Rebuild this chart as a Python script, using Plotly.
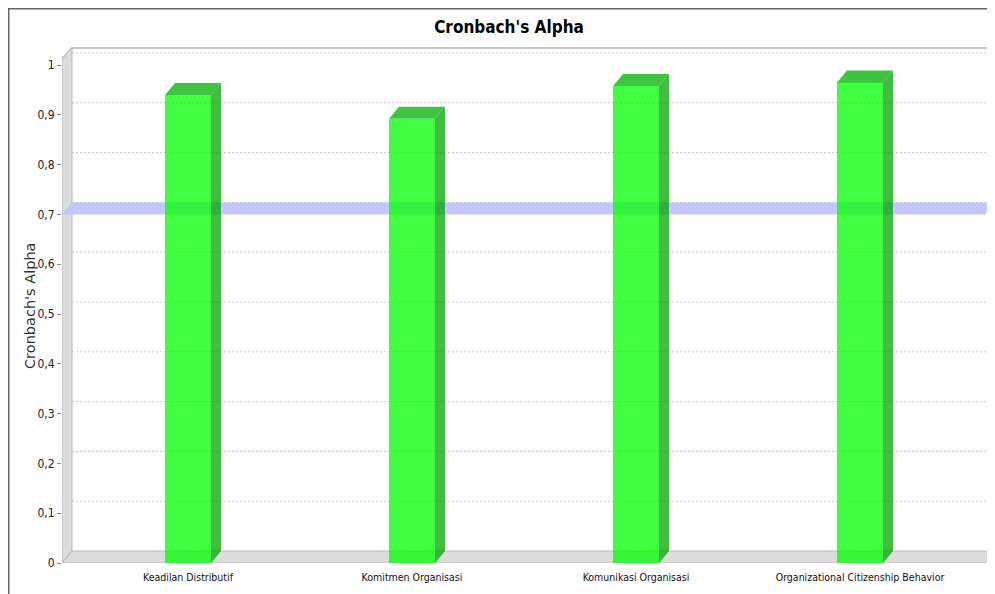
import plotly.graph_objects as go

# ---- data ----
categories = ["Keadilan Distributif", "Komitmen Organisasi", "Komunikasi Organisasi",
              "Organizational Citizenship Behavior"]
alpha_values = [0.940, 0.892, 0.958, 0.965]
threshold = 0.7
y_tick_vals = [0, 0.1, 0.2, 0.3, 0.4, 0.5, 0.6, 0.7, 0.8, 0.9, 1.0]
y_tick_text = ["0", "0,1", "0,2", "0,3", "0,4", "0,5", "0,6", "0,7", "0,8", "0,9", "1"]

# ---- geometry (pixels -> data units); page body has an 8px margin ----
W, H = 987, 586
ML, MR, MT, MB = 54, 0, 39, 31
PX_X = 224.0          # pixels per category step
PX_Y = 498.0          # pixels per unit of alpha
DX = 10 / PX_X        # 3D depth offset (x)
DY = 12 / PX_Y        # 3D depth offset (y)
BAR_W = 46 / PX_X

XL = -0.5625
XMAX = XL + (W - ML - MR) / PX_X
YMAX = (H - MT - MB) / PX_Y
XR = XMAX - DX
YTOP = YMAX - DY

xs = list(range(len(categories)))
NARROW = "DejaVu Sans Condensed, Liberation Sans Narrow, Liberation Sans, Arial"

fig = go.Figure()

# front faces of bars
fig.add_trace(go.Bar(
    x=xs, y=alpha_values, width=BAR_W,
    marker=dict(color="rgba(0,255,0,0.75)", line=dict(width=0)),
    hoverinfo="x+y", showlegend=False,
))

# side and top faces (3D effect derived from values)
for x, v in zip(xs, alpha_values):
    r = x + BAR_W / 2
    l = x - BAR_W / 2
    fig.add_trace(go.Scatter(
        x=[r, r + DX, r + DX, r, r], y=[0, DY, v + DY, v, 0],
        fill="toself", fillcolor="rgba(0,165,0,0.75)", mode="lines",
        line=dict(width=0), hoverinfo="skip", showlegend=False))
    fig.add_trace(go.Scatter(
        x=[l, r, r + DX, l + DX, l], y=[v, v, v + DY, v + DY, v],
        fill="toself", fillcolor="rgba(0,175,0,0.75)", mode="lines",
        line=dict(width=0), hoverinfo="skip", showlegend=False))

shapes = []
wall_fill = "#dcdcdc"
wall_line = "#b8b8b8"
# back wall top edge
shapes.append(dict(type="path", layer="below", xref="x", yref="y",
                   path=f"M {XL},{YTOP} L {XL+DX},{YMAX-0.002} L {XMAX},{YMAX-0.002}",
                   line=dict(color="#c4c4c4", width=2)))
# back-wall gridlines
for v in y_tick_vals[1:]:
    shapes.append(dict(type="line", layer="below", xref="x", yref="y",
                       x0=XL + DX, x1=XMAX, y0=v + DY, y1=v + DY,
                       line=dict(color="#c4c4c4", width=1, dash="2px,2px")))
# left wall
shapes.append(dict(type="path", layer="below", xref="x", yref="y",
                   path=f"M {XL},0 L {XL},{YTOP} L {XL+DX},{YMAX} L {XL+DX},{DY} Z",
                   fillcolor=wall_fill, line=dict(color=wall_line, width=1)))
# floor
shapes.append(dict(type="path", layer="below", xref="x", yref="y",
                   path=f"M {XL},0 L {XR},0 L {XMAX},{DY} L {XL+DX},{DY} Z",
                   fillcolor=wall_fill, line=dict(color=wall_line, width=1)))
# threshold band (3D plane at 0.7)
shapes.append(dict(type="path", layer="below", xref="x", yref="y",
                   path=f"M {XL},{threshold} L {XR},{threshold} L {XMAX},{threshold+DY} L {XL+DX},{threshold+DY} Z",
                   fillcolor="#c6c6fc", line=dict(width=0)))
# chart border (left and top)
pw, ph = W - ML - MR, H - MT - MB
bx = (0.5 - ML) / pw
by = 1 + (MT - 0.5) / ph
shapes.append(dict(type="path", xref="paper", yref="paper", layer="above",
                   path=f"M {bx},{-MB/ph - 0.01} L {bx},{by} L {1.01},{by}",
                   line=dict(color="#666666", width=2)))

fig.update_layout(
    width=W, height=H,
    margin=dict(l=ML, r=MR, t=MT, b=MB),
    paper_bgcolor="white", plot_bgcolor="white",
    separators=",.",
    shapes=shapes,
    title=dict(text="<b>Cronbach's Alpha</b>", x=501 / W, xanchor="center",
               y=1 - 19 / H, yanchor="middle", yref="container",
               font=dict(family=NARROW, size=17, color="#000000")),
    xaxis=dict(range=[XL, XMAX], tickvals=xs, ticktext=categories,
               showgrid=False, zeroline=False, showline=False, ticks="",
               ticklabelstandoff=6,
               tickfont=dict(family=NARROW, size=10.5, color="#111111")),
    yaxis=dict(range=[0, YMAX], tickvals=y_tick_vals, ticktext=y_tick_text,
               showgrid=False, zeroline=False, showline=False,
               ticks="outside", ticklen=4, tickcolor="#888888",
               tickfont=dict(family=NARROW, size=12, color="#222222")),
    annotations=[dict(text="Cronbach's Alpha", textangle=-90, showarrow=False,
                      xref="paper", yref="paper",
                      x=(22 - ML) / pw, y=1 - (298 - MT) / ph,
                      xanchor="center", yanchor="middle",
                      font=dict(family="DejaVu Sans, Liberation Sans", size=14.5, color="#333333"))],
    bargap=0,
)

fig.write_html("out.html")
